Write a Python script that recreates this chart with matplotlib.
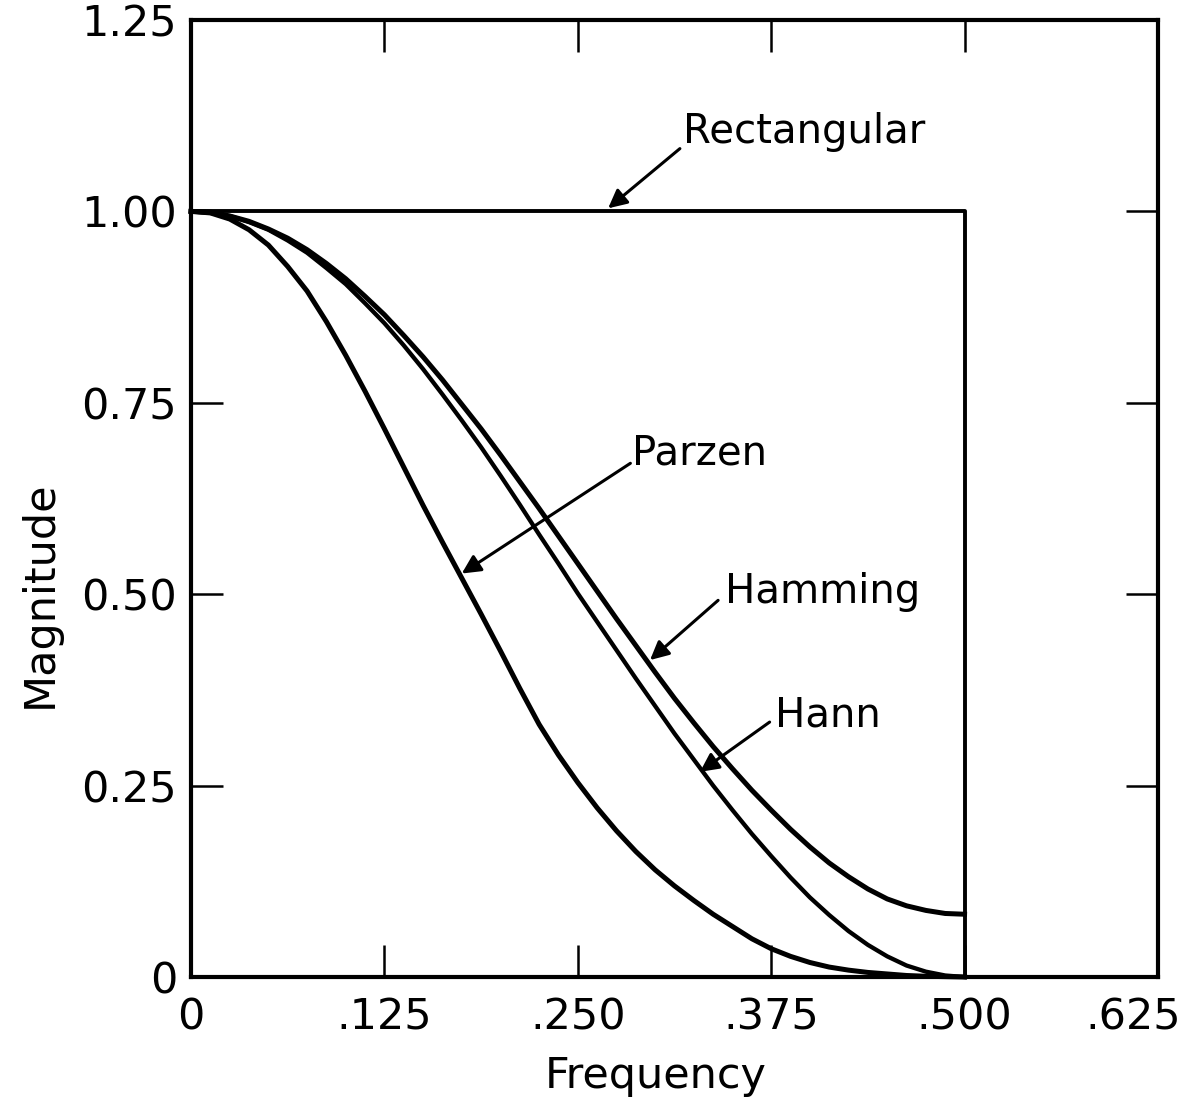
import numpy as np
import matplotlib
matplotlib.use("Agg")
from matplotlib import pyplot as plt
from matplotlib.transforms import ScaledTranslation

# frequence (axe x) et reponses
freq = [0, .0125, .025, .0375, .05, .0625, .075, .0875, .1, .1125,
        .125, .1375, .15, .1625, .175, .1875, .2, .2125, .225, .2375,
        .25, .2625, .275, .2875, .3, .3125, .325, .3375, .35, .3625,
        .375, .3875, .4, .4125, .425, .4375, .45, .4625, .475, .4875, .5]
hamming = [1.000, 0.999, 0.994, 0.987, 0.977, 0.965, 0.950, 0.932, 0.912, 0.889,
           0.865, 0.838, 0.810, 0.780, 0.748, 0.716, 0.682, 0.647, 0.612, 0.576,
           0.540, 0.504, 0.468, 0.433, 0.398, 0.364, 0.332, 0.301, 0.272, 0.244,
           0.218, 0.193, 0.170, 0.149, 0.131, 0.115, 0.102, 0.093, 0.087, 0.083, 0.082]
hann = [1.000, 0.998, 0.994, 0.986, 0.976, 0.962, 0.946, 0.926, 0.905, 0.880,
        0.854, 0.825, 0.794, 0.761, 0.727, 0.692, 0.655, 0.617, 0.578, 0.540,
        0.501, 0.464, 0.427, 0.390, 0.354, 0.318, 0.284, 0.250, 0.218, 0.187,
        0.158, 0.130, 0.104, 0.081, 0.060, 0.042, 0.027, 0.015, 0.007, 0.002, 0.0]
parzen = [1.000, 0.998, 0.990, 0.976, 0.956, 0.928, 0.896, 0.856, 0.812, 0.765,
          0.716, 0.666, 0.616, 0.568, 0.521, 0.474, 0.426, 0.377, 0.330, 0.290,
          0.254, 0.221, 0.191, 0.164, 0.140, 0.119, 0.100, 0.082, 0.066, 0.050,
          0.037, 0.027, 0.019, 0.013, 0.009, 0.006, 0.004, 0.002, 0.001, 0.0005, 0.0]
rect_f = [0, .5, .5]
rect_m = [1.0, 1.0, 0.0]

xticks = [0, .125, .25, .375, .5, .625]
xlabels = ['0', '.125', '.250', '.375', '.500', '.625']
yticks = [0, .25, .5, .75, 1.0, 1.25]
ylabels = ['0', '0.25', '0.50', '0.75', '1.00', '1.25']

# etiquettes : (texte, position du texte, queue de fleche, pointe de fleche)
labels = [
    ('Rectangular', (0.318, 1.104), (0.316, 1.082), (0.2696, 1.004)),
    ('Parzen', (0.285, 0.684), (0.284, 0.671), (0.175, 0.527)),
    ('Hamming', (0.345, 0.503), (0.3407, 0.492), (0.2967, 0.414)),
    ('Hann', (0.3775, 0.341), (0.374, 0.333), (0.329, 0.268)),
]

plt.rcParams['font.family'] = ['DejaVu Sans']
fig = plt.figure(figsize=(11.88, 11.10), dpi=100)
ax = fig.add_axes([0.1608, 0.1198, 0.8139, 0.8622])

ax.plot(rect_f, rect_m, 'k-', lw=2.8, clip_on=False)
ax.plot(freq, hamming, 'k-', lw=3.6, clip_on=False)
ax.plot(freq, hann, 'k-', lw=3.1, clip_on=False)
ax.plot(freq, parzen, 'k-', lw=3.6, clip_on=False)

for txt, pos, tail, tip in labels:
    ax.text(pos[0], pos[1], txt, fontsize=29, ha='left', va='center')
    ax.annotate('', xy=tip, xytext=tail,
                arrowprops=dict(arrowstyle='-|>', color='black', lw=2.2,
                                mutation_scale=28, shrinkA=0, shrinkB=0))

ax.set_xlim(0, 0.625)
ax.set_ylim(0, 1.25)
ax.set_xticks(xticks)
ax.set_xticklabels(xlabels)
ax.set_yticks(yticks)
ax.set_yticklabels(ylabels)
ax.tick_params(direction='in', length=23, width=1.8, top=True, right=True,
               labelsize=31)
ax.tick_params(axis='x', pad=14)
ax.tick_params(axis='y', pad=10)
for s in ax.spines.values():
    s.set_linewidth(3)

# le dernier label est decale a gauche comme sur l'original
last = ax.get_xticklabels()[-1]
last.set_transform(last.get_transform() + ScaledTranslation(-0.25, 0, fig.dpi_scale_trans))

ax.set_xlabel('Frequency', fontsize=31)
ax.set_ylabel('Magnitude', fontsize=31)
ax.xaxis.set_label_coords(0.481, -0.082)
ax.yaxis.set_label_coords(-0.135, 0.40)

fig.savefig('out.png', dpi=100)
